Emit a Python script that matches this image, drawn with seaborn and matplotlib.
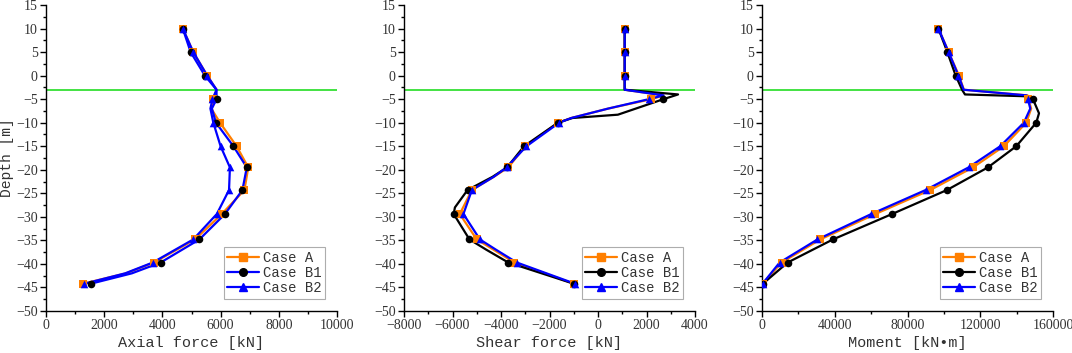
import matplotlib
matplotlib.use('Agg')
import matplotlib.pyplot as plt
from matplotlib.lines import Line2D
from matplotlib.ticker import AutoMinorLocator
import seaborn as sns
import pandas as pd

# depths where the markers sit [m]
mark_depth = [10, 5, 0, -5, -10, -15, -19.5, -24.3, -29.4, -34.8, -39.7, -44.2]

# ---- axial force [kN] ----
axial_depth = [10, 5, 0, -3, -5, -7, -10, -15, -19.5, -24.3, -29.4, -34.8, -39.7, -42, -44.2]
axial_A = [4700, 5060, 5540, 5860, 5750, 5680, 5980, 6550, 6950, 6820, 6040, 5120, 3710, 2750, 1280]
axial_B1 = [4700, 4970, 5460, 5860, 5860, 5700, 5840, 6440, 6900, 6750, 6150, 5270, 3940, 2950, 1540]
axial_B2 = [4700, 5060, 5540, 5860, 5720, 5650, 5750, 6000, 6320, 6290, 5870, 5060, 3670, 2720, 1320]

# ---- shear force [kN] ----
shear_depth_A = [10, 5, 0, -3, -4.2, -5, -7, -9, -10, -15, -19.5, -21.5, -24.3, -29.4, -34.8, -37, -39.7, -44.2]
shear_A = [1100, 1100, 1100, 1100, 2700, 2200, 420, -1100, -1650, -3000, -3700, -4300, -5200, -5700, -5000, -4300, -3450, -1000]
shear_depth_B1 = [10, 5, 0, -3, -4, -5, -8.3, -9, -10, -15, -19.5, -21.5, -24.3, -28, -29.4, -34.8, -37, -39.7, -44.2]
shear_B1 = [1100, 1100, 1100, 1100, 3300, 2700, 820, -1050, -1650, -3050, -3750, -4350, -5380, -5900, -5950, -5300, -4600, -3700, -1000]
shear_depth_B2 = shear_depth_A
shear_B2 = [1100, 1100, 1100, 1100, 2700, 2100, 420, -1100, -1600, -2950, -3770, -4300, -5200, -5550, -4870, -4200, -3350, -950]

# ---- moment [kN*m] ----
moment_depth_A = [10, 5, 0, -3, -4.2, -5, -7, -10, -15, -19.5, -24.3, -29.4, -34.8, -39.7, -44.2]
moment_A = [97000, 102600, 108300, 111000, 146000, 146500, 148000, 145300, 133000, 116000, 92500, 62300, 32000, 10800, 300]
moment_depth_B1 = [10, 5, 0, -3, -4, -4.4, -5, -8, -10, -15, -19.5, -24.3, -29.4, -34.8, -39.7, -44.2]
moment_B1 = [97000, 101900, 106500, 110000, 111600, 146500, 149000, 152300, 150800, 139800, 124200, 101700, 71500, 39000, 14100, 500]
moment_depth_B2 = moment_depth_A
moment_B2 = [97000, 102600, 108000, 110900, 145500, 146200, 147500, 144000, 131000, 113600, 90000, 60100, 30500, 9700, 300]

cases = ['Case A', 'Case B1', 'Case B2']
orange = '#FF7F00'
blue = '#0000FF'
black = '#000000'


def frame(depth, vals):
    return pd.DataFrame({'depth': depth, 'val': vals})


def marks(depth, vals):
    df = frame(depth, vals)
    return df[df['depth'].isin(mark_depth)]


sns.set_style('white')
plt.rcParams['font.family'] = ['Liberation Serif', 'DejaVu Serif']

fig = plt.figure(figsize=(10.72, 3.53), dpi=100)
w = 291 / 1072
h = 306 / 353
bot = 1 - 311 / 353
ax1 = fig.add_axes([46 / 1072, bot, w, h])
ax2 = fig.add_axes([404 / 1072, bot, w, h])
ax3 = fig.add_axes([762 / 1072, bot, w, h])

panels = [
    (ax1, [(axial_depth, axial_A), (axial_depth, axial_B1), (axial_depth, axial_B2)],
     [orange, blue, blue], (0, 10000), range(0, 10001, 2000), 'Axial force [kN]'),
    (ax2, [(shear_depth_A, shear_A), (shear_depth_B1, shear_B1), (shear_depth_B2, shear_B2)],
     [orange, black, blue], (-8000, 4000), range(-8000, 4001, 2000), 'Shear force [kN]'),
    (ax3, [(moment_depth_A, moment_A), (moment_depth_B1, moment_B1), (moment_depth_B2, moment_B2)],
     [orange, black, blue], (0, 160000), range(0, 160001, 40000), 'Moment [kN\u2022m]'),
]

mstyle = [('s', orange), ('o', black), ('^', blue)]
mono = 'Liberation Mono'

for ax, series, lcols, xlim, xt, xlabel in panels:
    ax.axhline(-3, color='#22DD22', lw=1.2, zorder=1)
    for (d, v), lc, (mk, mc), lab in zip(series, lcols, mstyle, cases):
        sns.lineplot(data=frame(d, v), x='val', y='depth', sort=False, estimator=None,
                     color=lc, lw=1.6, ax=ax, zorder=2)
        sns.scatterplot(data=marks(d, v), x='val', y='depth', marker=mk, color=mc,
                        s=30, linewidth=0, ax=ax, zorder=3)
    ax.set_xlim(*xlim)
    ax.set_ylim(-50, 15)
    ax.set_xticks(list(xt))
    ax.set_yticks(range(-50, 16, 5))
    ax.xaxis.set_minor_locator(AutoMinorLocator(2))
    ax.yaxis.set_minor_locator(AutoMinorLocator(2))
    ax.tick_params(which='major', direction='out', length=4, width=1, colors='black',
                   labelcolor='#333333', labelsize=10, bottom=True, left=True, pad=2)
    ax.tick_params(which='minor', direction='out', length=2.5, width=1, colors='black',
                   bottom=True, left=True)
    for s in ['top', 'right']:
        ax.spines[s].set_visible(False)
    for s in ['left', 'bottom']:
        ax.spines[s].set_color('black')
        ax.spines[s].set_linewidth(1)
    ax.set_xlabel(xlabel, fontfamily=mono, fontsize=11, color='#333333', labelpad=3)
    ax.set_ylabel('')

    handles = [Line2D([], [], color=lc, lw=1.6, marker=mk, markerfacecolor=mc,
                      markeredgecolor=mc, markersize=5.5)
               for lc, (mk, mc) in zip(lcols, mstyle)]
    leg = ax.legend(handles, cases, loc='lower right', bbox_to_anchor=(0.96, 0.04),
                    prop={'family': mono, 'size': 10}, frameon=True, fancybox=False,
                    edgecolor='#999999', handlelength=2.3, handletextpad=0.3,
                    borderpad=0.25, labelspacing=0.1, borderaxespad=0)
    leg.get_frame().set_linewidth(0.8)
    for t in leg.get_texts():
        t.set_color('#333333')

ax1.set_ylabel('Depth [m]', fontfamily=mono, fontsize=10.5, color='#333333')
ax1.yaxis.set_label_coords(-0.11, 0.5)

fig.savefig('out.png', dpi=100)
